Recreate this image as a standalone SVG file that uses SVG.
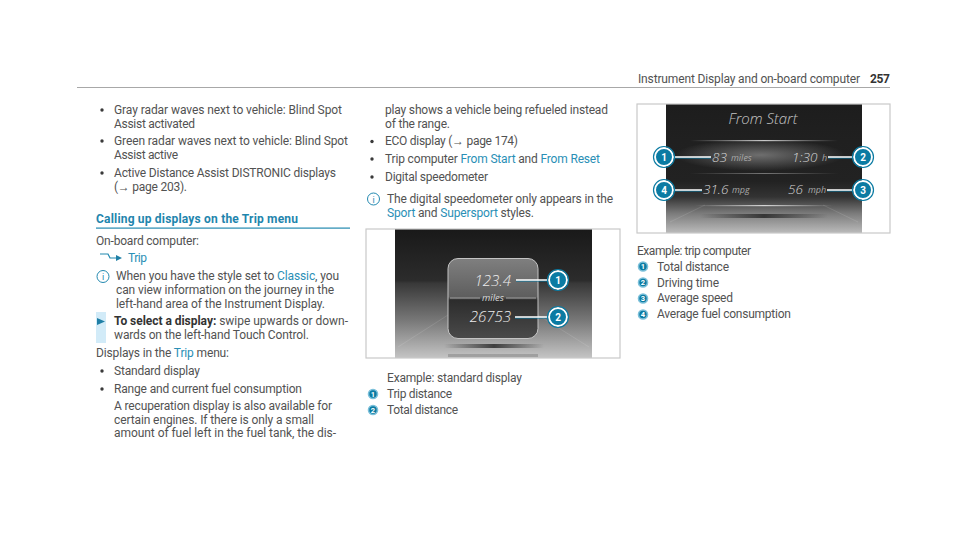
<svg xmlns="http://www.w3.org/2000/svg" width="960" height="533" viewBox="0 0 960 533">
<style>
text{font-family:Roboto,"Liberation Sans",sans-serif}
.t{font-size:12px;fill:#525252}
.b{fill:#2a8fb6}
.h{font-size:12px;font-weight:700;fill:#1f85ad}
.v{font-style:italic;fill:#ececec;font-family:"Open Sans","Liberation Sans",sans-serif;font-weight:300}
.u{font-style:italic;fill:#a8a8a8;font-family:"Open Sans","Liberation Sans",sans-serif;font-size:9px}
.m circle.o{fill:#0b7ba3;stroke:#fff;stroke-width:2}
.m circle.r{fill:none;stroke:#0b7ba3;stroke-width:1.2}
.m text{font-size:10px;font-weight:700;fill:#fff;text-anchor:middle}
.s circle.a{fill:#0b7ba3;stroke:#7cc0da;stroke-width:1.6}
.s text{font-size:7.5px;font-weight:700;fill:#fff;text-anchor:middle}
.l{stroke:#fff;stroke-width:1.6;fill:none}
.l2{stroke:#0b7ba3;stroke-width:1;fill:none}
.f{fill:none;stroke:#c9c9c9;stroke-width:1.2}
.d{fill:#3a3a3a}
.p{stroke:#fff;stroke-opacity:.14;stroke-width:.8;fill:none}
</style>
<defs>
<linearGradient id="g1" x1="0" y1="0" x2="0" y2="1"><stop offset="0" stop-color="#191919"/><stop offset=".4" stop-color="#2c2c2c"/><stop offset=".42" stop-color="#383838"/><stop offset=".7" stop-color="#767676"/><stop offset="1" stop-color="#c4c4c4"/></linearGradient>
<linearGradient id="g2" x1="0" y1="0" x2="0" y2="1"><stop offset="0" stop-color="#1d1d1d"/><stop offset=".28" stop-color="#202020"/><stop offset=".6" stop-color="#222"/><stop offset=".72" stop-color="#333"/><stop offset=".85" stop-color="#7c7c7c"/><stop offset="1" stop-color="#bbb"/></linearGradient>
<linearGradient id="p1" x1="0" y1="0" x2="0" y2="1"><stop offset="0" stop-color="#7f7f7f"/><stop offset=".48" stop-color="#5e5e5e"/><stop offset=".52" stop-color="#2c2c2c"/><stop offset="1" stop-color="#4a4a4a"/></linearGradient>
<linearGradient id="hz" x1="0" y1="0" x2="1" y2="0"><stop offset="0" stop-color="#fff" stop-opacity="0"/><stop offset=".5" stop-color="#fff" stop-opacity=".75"/><stop offset="1" stop-color="#fff" stop-opacity="0"/></linearGradient>
<linearGradient id="hd" x1="0" y1="0" x2="1" y2="0"><stop offset="0" stop-color="#222" stop-opacity="0"/><stop offset=".5" stop-color="#222" stop-opacity=".8"/><stop offset="1" stop-color="#222" stop-opacity="0"/></linearGradient>
<radialGradient id="gl"><stop offset="0" stop-color="#777" stop-opacity=".9"/><stop offset="1" stop-color="#777" stop-opacity="0"/></radialGradient>
</defs>

<g id="page-header">
<rect x="77" y="87" width="813" height="1" fill="#a8a8a8"/>
<text class="t" x="638" y="83" textLength="222">Instrument Display and on-board computer</text>
<text class="t" x="870" y="83" textLength="20" style="font-weight:700;fill:#333">257</text>
</g>

<g id="column-1">
<circle class="d" cx="102" cy="110" r="1.7"/>
<text class="t" x="114" y="114" textLength="228">Gray radar waves next to vehicle: Blind Spot</text>
<text class="t" x="114" y="127.5" textLength="81">Assist activated</text>
<circle class="d" cx="102" cy="141" r="1.7"/>
<text class="t" x="114" y="145" textLength="234">Green radar waves next to vehicle: Blind Spot</text>
<text class="t" x="114" y="159" textLength="64">Assist active</text>
<circle class="d" cx="102" cy="173" r="1.7"/>
<text class="t" x="114" y="176.5" textLength="222">Active Distance Assist DISTRONIC displays</text>
<text class="t" x="114" y="190.5" textLength="73">(→ page 203).</text>
<text class="h" x="96" y="223" textLength="202">Calling up displays on the Trip menu</text>
<rect x="96" y="227.5" width="254" height="1.2" fill="#2389b0"/>
<text class="t" x="96" y="244.5" textLength="103">On-board computer:</text>
<path d="M100 254H108L110 258H117" fill="none" stroke="#2389b0" stroke-width="1.2"/>
<path d="M116 255L122 258L116 261Z" fill="#1f7fa6"/>
<text class="t b" x="128" y="262" textLength="19">Trip</text>
<circle cx="103" cy="276.5" r="6" fill="none" stroke="#2389b0"/>
<text x="103" y="280" text-anchor="middle" style="font-size:9px;fill:#2389b0">i</text>
<text class="t" x="116" y="280" textLength="223">When you have the style set to <tspan class="b">Classic</tspan>, you</text>
<text class="t" x="116" y="294" textLength="218">can view information on the journey in the</text>
<text class="t" x="116" y="307.5" textLength="209">left-hand area of the Instrument Display.</text>
<rect x="96" y="312" width="10" height="31" fill="#d2ebf8"/>
<path d="M97 318L105 321.500L97 325Z" fill="#1f7fa6"/>
<text class="t" x="114" y="325" textLength="234"><tspan style="font-weight:700;fill:#333">To select a display:</tspan> swipe upwards or down-</text>
<text class="t" x="114" y="339" textLength="195">wards on the left-hand Touch Control.</text>
<text class="t" x="96" y="357" textLength="133">Displays in the <tspan class="b">Trip</tspan> menu:</text>
<circle class="d" cx="102" cy="371" r="1.7"/>
<text class="t" x="114" y="375" textLength="86">Standard display</text>
<circle class="d" cx="102" cy="389" r="1.7"/>
<text class="t" x="114" y="392.500" textLength="188">Range and current fuel consumption</text>
<text class="t" x="114" y="410" textLength="218">A recuperation display is also available for</text>
<text class="t" x="114" y="424" textLength="200">certain engines. If there is only a small</text>
<text class="t" x="114" y="437" textLength="222">amount of fuel left in the fuel tank, the dis-</text>
</g>

<g id="column-2">
<text class="t" x="385" y="114" textLength="223">play shows a vehicle being refueled instead</text>
<text class="t" x="385" y="127.5" textLength="65">of the range.</text>
<circle class="d" cx="372" cy="141.500" r="1.7"/>
<text class="t" x="385" y="145" textLength="133">ECO display (→ page 174)</text>
<circle class="d" cx="372" cy="159" r="1.7"/>
<text class="t" x="385" y="162.5" textLength="215">Trip computer <tspan class="b">From Start</tspan> and <tspan class="b">From Reset</tspan></text>
<circle class="d" cx="372" cy="177" r="1.7"/>
<text class="t" x="385" y="180.5" textLength="103">Digital speedometer</text>
<circle cx="373.500" cy="199" r="6" fill="none" stroke="#2389b0"/>
<text x="373.500" y="202.500" text-anchor="middle" style="font-size:9px;fill:#2389b0">i</text>
<text class="t" x="387" y="202.5" textLength="226">The digital speedometer only appears in the</text>
<text class="t" x="387" y="216.500" textLength="147"><tspan class="b">Sport</tspan> and <tspan class="b">Supersport</tspan> styles.</text>
</g>

<g id="figure-standard">
<rect x="395" y="229" width="197" height="129" fill="url(#g1)"/>
<path class="p" d="M398 347L448 315M589 347L538 315"/>
<rect class="f" x="366" y="229" width="254" height="129"/>
<rect x="444" y="344" width="100" height="4" fill="url(#hd)"/>
<rect x="448" y="354" width="90" height="3" fill="#8a8a8a" opacity=".6"/>
<rect x="448" y="258.500" width="90" height="80" rx="10" fill="url(#p1)" stroke="#c4c4c4" stroke-width="1"/>
<text class="v" x="511" y="286" text-anchor="end" style="font-size:15px">123.4</text>
<text class="u" x="493" y="301" text-anchor="middle" style="font-size:9.500px;fill:#d8d8d8">miles</text>
<path d="M450 298H480M506 298H536" stroke="#bbb" stroke-width=".8"/>
<text class="v" x="511" y="322" text-anchor="end" style="font-size:15px">26753</text>
</g>

<g id="figure-trip">
<rect x="666" y="104" width="196" height="129" fill="url(#g2)"/>
<ellipse cx="760" cy="155" rx="85" ry="16" fill="url(#gl)"/>
<path class="p" d="M670 222L705 205M858 222L823 205"/>
<rect class="f" x="637" y="104" width="253" height="129"/>
<rect x="690" y="140" width="148" height="1.200" fill="url(#hz)"/>
<rect x="690" y="173" width="148" height="1" fill="url(#hz)" opacity=".5"/>
<rect x="695" y="205" width="138" height="1.200" fill="url(#hz)"/>
<rect x="700" y="214" width="128" height="4" fill="url(#hd)"/>
<text class="v" x="763" y="124" text-anchor="middle" style="font-size:15px;fill:#c4c4c4">From Start</text>
<text class="v" x="712" y="162" style="font-size:13.500px;fill:#d4d4d4">83</text>
<text class="u" x="731" y="161">miles</text>
<text class="v" x="792" y="162" style="font-size:13.500px;fill:#d4d4d4">1:30</text>
<text class="u" x="822" y="161">h</text>
<text class="v" x="703" y="194" style="font-size:13.500px;fill:#d4d4d4">31.6</text>
<text class="u" x="732" y="193">mpg</text>
<text class="v" x="788" y="194" style="font-size:13.500px;fill:#d4d4d4">56</text>
<text class="u" x="808" y="193">mph</text>
</g>

<g id="connectors">
<path class="l2" d="M516 281H548M515 318H548M674 158H711M828 158H853M674 191H702M827 191H853"/>
<path class="l" d="M516 280H548M515 317H548M674 157H711M828 157H853M674 190H702M827 190H853"/>
</g>

<g id="callout-a1" class="m"><circle class="o" cx="558" cy="280" r="9"/><circle class="r" cx="558" cy="280" r="10.500"/><text x="558" y="283.500">1</text></g>
<g id="callout-a2" class="m"><circle class="o" cx="558" cy="317" r="9"/><circle class="r" cx="558" cy="317" r="10.500"/><text x="558" y="320.500">2</text></g>
<g id="callout-b1" class="m"><circle class="o" cx="664" cy="157" r="9"/><circle class="r" cx="664" cy="157" r="10.500"/><text x="664" y="160.500">1</text></g>
<g id="callout-b2" class="m"><circle class="o" cx="863" cy="157" r="9"/><circle class="r" cx="863" cy="157" r="10.500"/><text x="863" y="160.500">2</text></g>
<g id="callout-b3" class="m"><circle class="o" cx="863" cy="190" r="9"/><circle class="r" cx="863" cy="190" r="10.500"/><text x="863" y="193.500">3</text></g>
<g id="callout-b4" class="m"><circle class="o" cx="664" cy="190" r="9"/><circle class="r" cx="664" cy="190" r="10.500"/><text x="664" y="193.500">4</text></g>

<g id="caption-standard">
<text class="t" x="387" y="382" textLength="135">Example: standard display</text>
<g class="s"><circle class="a" cx="373" cy="394" r="4.500"/><text x="373" y="396.700">1</text></g>
<text class="t" x="387" y="398" textLength="65">Trip distance</text>
<g class="s"><circle class="a" cx="373" cy="410" r="4.500"/><text x="373" y="412.700">2</text></g>
<text class="t" x="387" y="413.5" textLength="71">Total distance</text>
</g>

<g id="caption-trip">
<text class="t" x="637" y="255" textLength="114">Example: trip computer</text>
<g class="s"><circle class="a" cx="643" cy="266.500" r="4.500"/><text x="643" y="269.200">1</text></g>
<text class="t" x="657" y="270.5" textLength="72">Total distance</text>
<g class="s"><circle class="a" cx="643" cy="282.500" r="4.500"/><text x="643" y="285.200">2</text></g>
<text class="t" x="657" y="286.5" textLength="62">Driving time</text>
<g class="s"><circle class="a" cx="643" cy="298.500" r="4.500"/><text x="643" y="301.200">3</text></g>
<text class="t" x="657" y="302" textLength="76">Average speed</text>
<g class="s"><circle class="a" cx="643" cy="314.500" r="4.500"/><text x="643" y="317.200">4</text></g>
<text class="t" x="657" y="318" textLength="134">Average fuel consumption</text>
</g>
</svg>
